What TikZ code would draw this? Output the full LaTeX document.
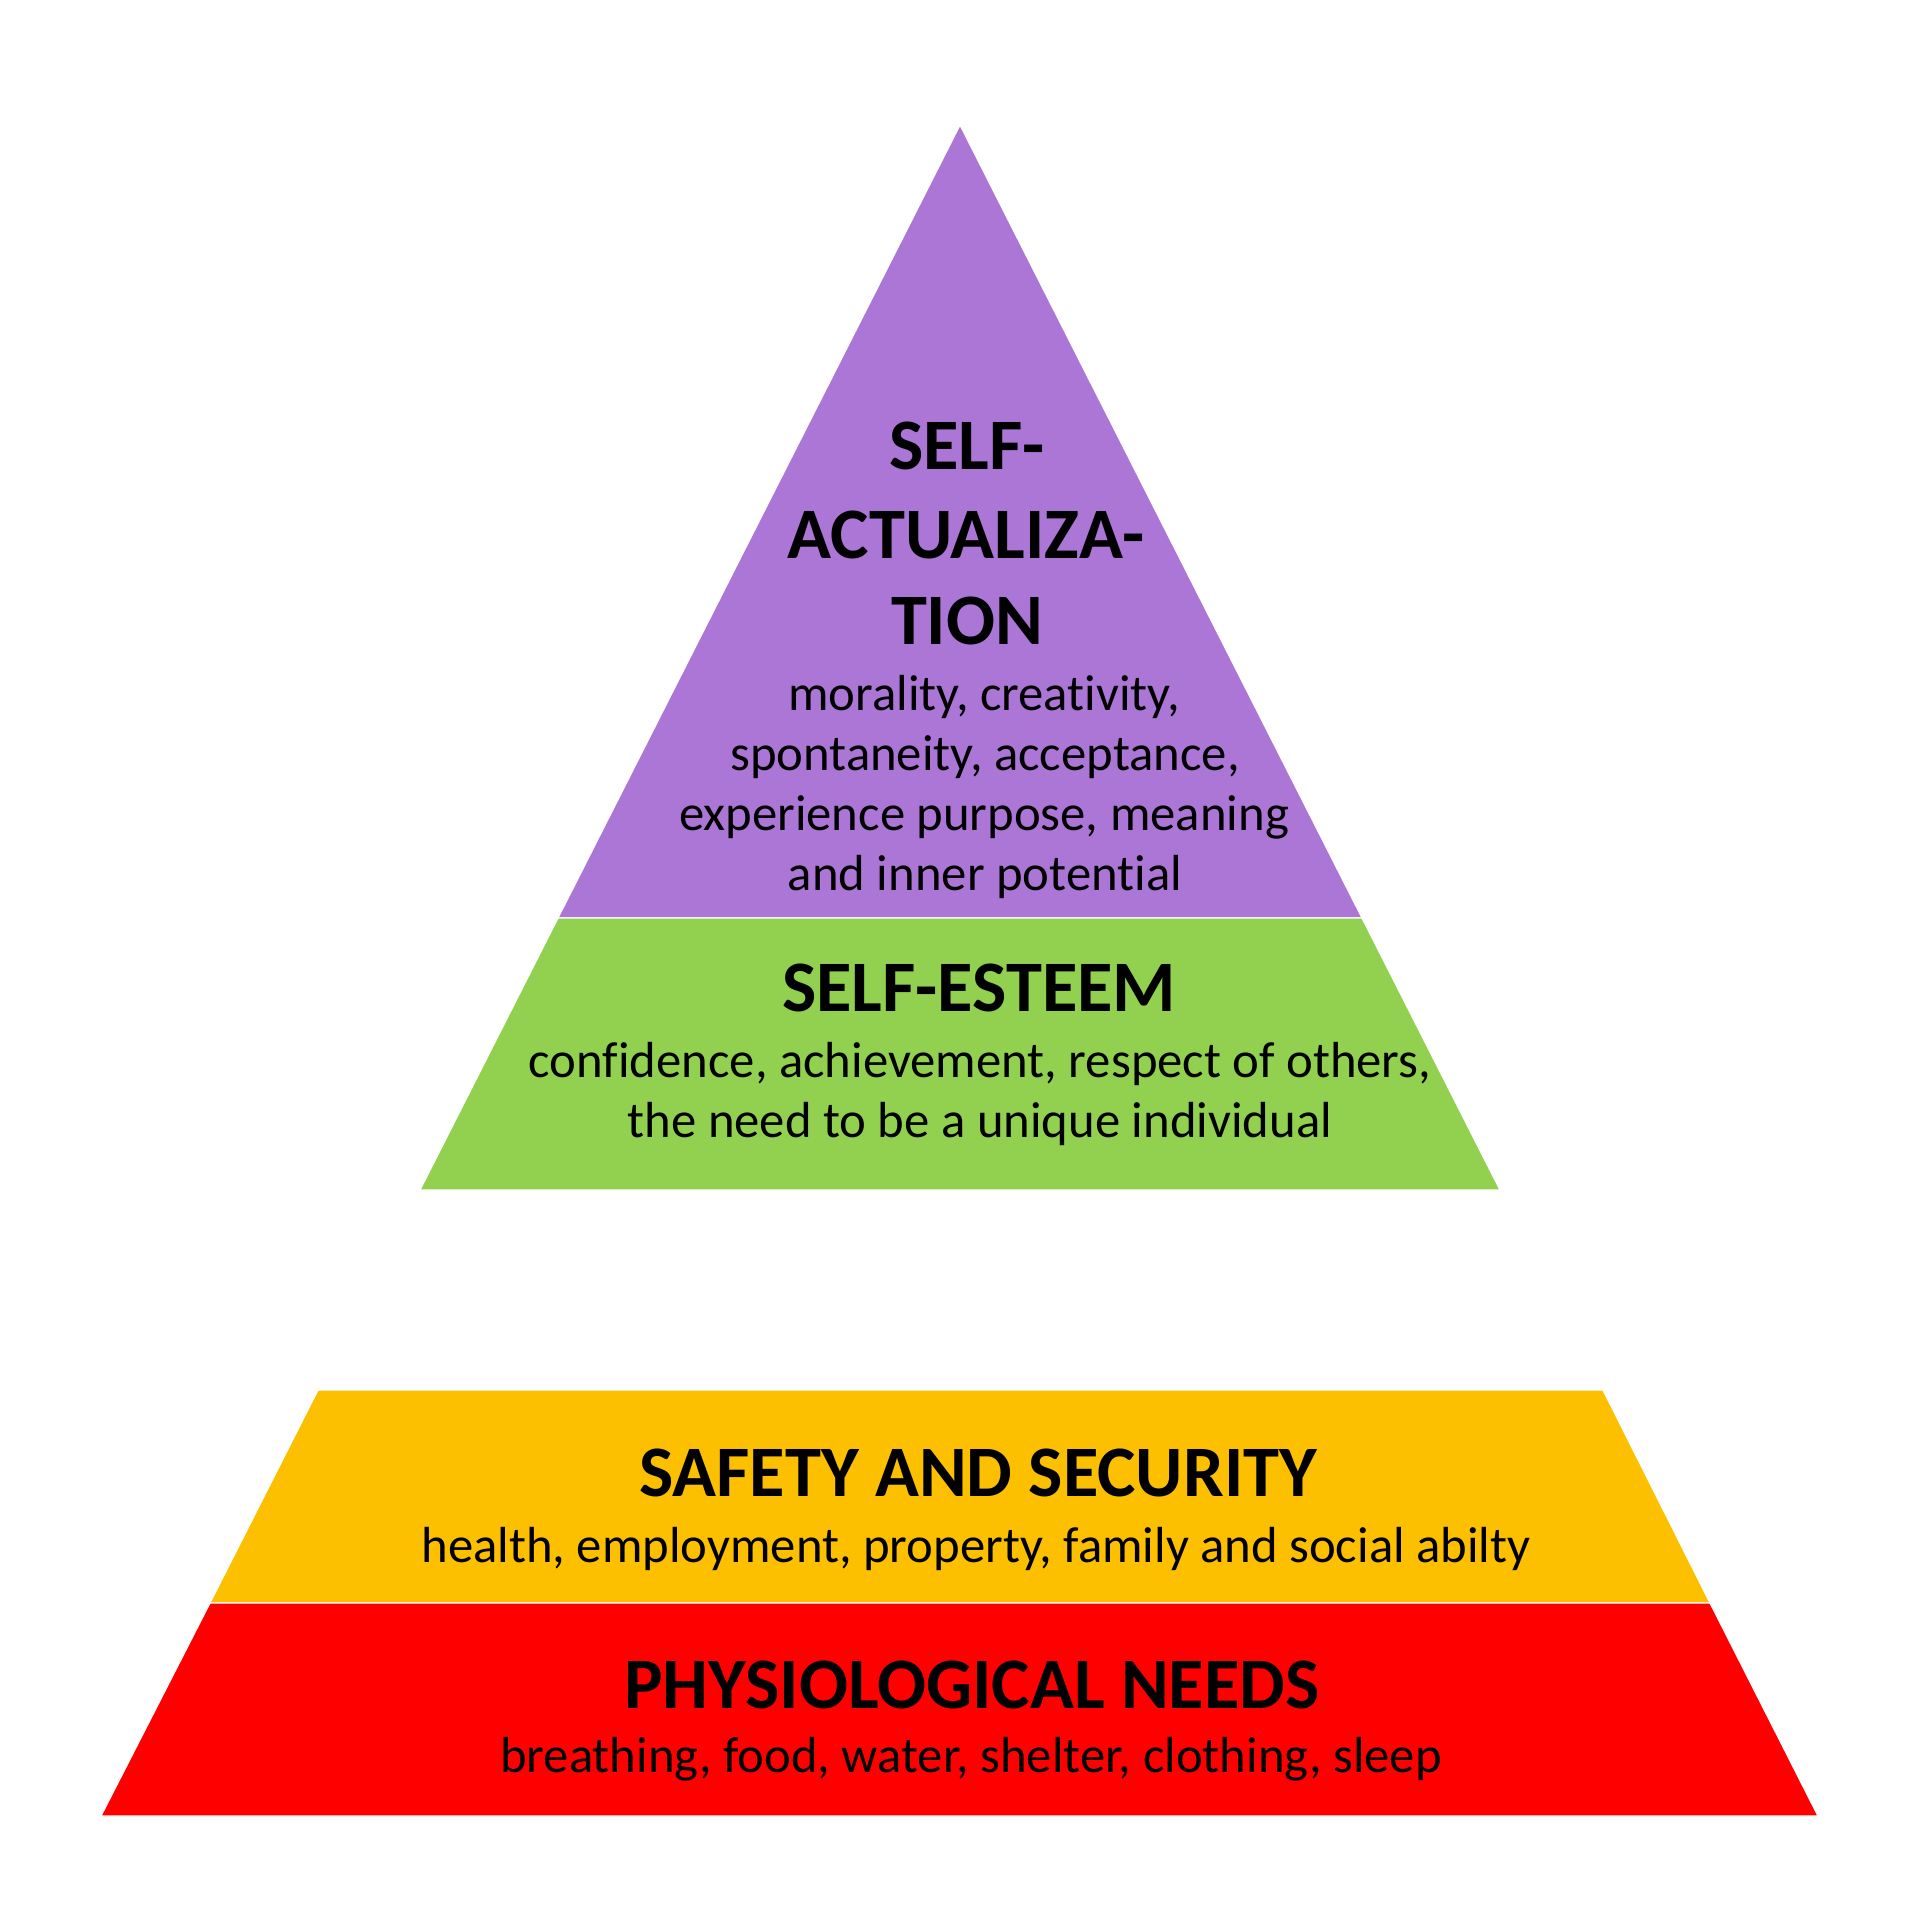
\documentclass[tikz,border=0pt]{standalone}
\usepackage{fontspec}
\setmainfont{Carlito}[Ligatures=CommonOff]
\definecolor{cpurple}{RGB}{171,118,214}
\definecolor{cgreen}{RGB}{146,208,80}
\definecolor{cyellow}{RGB}{252,192,0}
\definecolor{cred}{RGB}{255,0,0}
\tikzset{
  band/.style={draw=white, line width=1.2pt},
  head/.style={anchor=base, inner sep=0pt, font=\fontsize{72.5}{86}\selectfont\bfseries},
  body/.style={anchor=base, inner sep=0pt, font=\fontsize{50.7}{61}\selectfont},
}
\begin{document}
\begin{tikzpicture}[x=1pt,y=-1pt]
\useasboundingbox (0,0) rectangle (1920,1920);
\fill[white] (0,0) rectangle (1920,1920);
% bands
\path[band, fill=cpurple] (960,125) -- (1362,918) -- (558,918) -- cycle;
\path[band, fill=cgreen] (558,918) -- (1362,918) -- (1500,1190) -- (420,1190) -- cycle;
\path[band, fill=cyellow] (318,1390) -- (1603,1390) -- (1710,1603) -- (210,1603) -- cycle;
\path[band, fill=cred] (210,1603) -- (1710,1603) -- (1818,1816) -- (101,1816) -- cycle;
% self-actualization
\node[head] (sa1) at (967,469) {SELF-};
\node[head] (sa2) at (966,558) {ACTUALIZA-};
\node[head] (sa3) at (967,644) {TION};
\node[body] (sb1) at (984,710) {morality, creativity,};
\node[body] (sb2) at (985,770) {spontaneity, acceptance,};
\node[body] (sb3) at (984,830) {experience purpose, meaning};
\node[body] (sb4) at (985,890) {and inner potential};
% self-esteem
\node[head] (eh) at (979,1011) {SELF-ESTEEM};
\node[body] (eb1) at (980,1077) {confidence, achievement, respect of others,};
\node[body] (eb2) at (980,1137) {the need to be a unique individual};
% safety
\node[head] (yh) at (978,1496) {SAFETY AND SECURITY};
\node[body] (yb) at (976,1562) {health, employment, property, family and social abilty};
% physiological
\node[head] (rh) at (972,1708) {PHYSIOLOGICAL NEEDS};
\node[body] (rb) at (971,1772) {breathing, food, water, shelter, clothing, sleep};
\end{tikzpicture}
\end{document}
